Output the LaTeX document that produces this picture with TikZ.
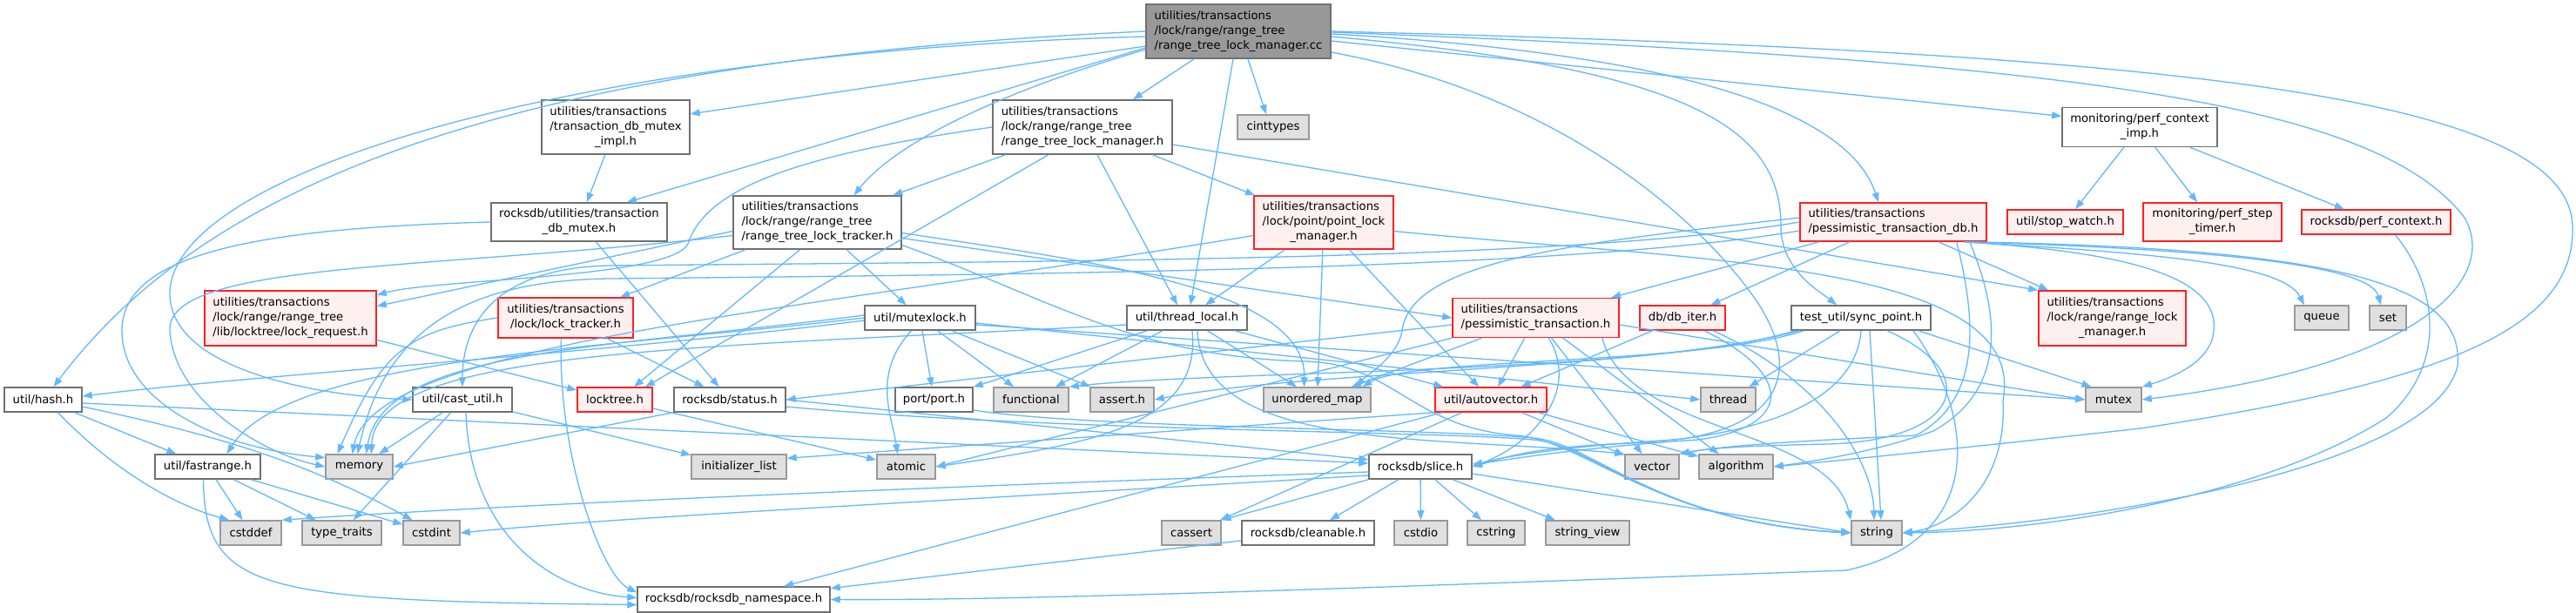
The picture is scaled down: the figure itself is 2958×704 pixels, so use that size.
\documentclass[tikz,border=0pt]{standalone}
\usepackage{fontspec}
\usetikzlibrary{arrows.meta}
\newfontfamily\depfont{DejaVu Sans}
\definecolor{edgeblue}{HTML}{63B8FF}
\definecolor{boxborder}{HTML}{707070}
\definecolor{sysborder}{HTML}{999999}
\definecolor{sysfill}{HTML}{E0E0E0}
\definecolor{truncborder}{HTML}{FF2020}
\definecolor{truncfill}{HTML}{FFF0F0}
\definecolor{rootfill}{HTML}{999999}

\begin{document}
\begin{tikzpicture}[x=1pt, y=-1pt,
    hdr/.style={draw=boxborder, fill=white, line width=1.5pt, inner sep=0pt,
      align=left, font=\depfont\fontsize{13.2}{17}\selectfont},
    sys/.style={hdr, draw=sysborder, fill=sysfill},
    trunc/.style={hdr, draw=truncborder, fill=truncfill},
    root/.style={hdr, fill=rootfill},
    sz/.style 2 args={minimum width=#1pt, minimum height=#2pt},
    dep/.style={draw=edgeblue, line width=1.3pt, -{Triangle[length=11pt,width=8pt]}}]

        % Page
        \fill[white] (0,0) rectangle (2958,704);
        \useasboundingbox (0,0) rectangle (2958,704);

        % The file itself
        \node[root, sz={212}{62}] (main) at (1422,36) {utilities/transactions\\/lock/range/range\_tree\\/range\_tree\_lock\_manager.cc};

        % First row of headers
        \node[hdr, sz={170}{62}] (tdmi) at (707,146) {utilities/transactions\\/transaction\_db\_mutex\\\hfil\_impl.h};
        \node[hdr, sz={206}{62}] (rtlm) at (1243,146) {utilities/transactions\\/lock/range/range\_tree\\/range\_tree\_lock\_manager.h};
        \node[sys, sz={82}{28}] (cinttypes) at (1462,146) {cinttypes};
        \node[hdr, sz={178}{45}] (perfimp) at (2457,146) {monitoring/perf\_context\\\hfil\_imp.h};

        % Second row
        \node[hdr, sz={202}{44}] (tdm) at (665,255) {rocksdb/utilities/transaction\\\hfil\_db\_mutex.h};
        \node[hdr, sz={193}{61}] (rtlt) at (938.5,255.5) {utilities/transactions\\/lock/range/range\_tree\\/range\_tree\_lock\_tracker.h};
        \node[trunc, sz={160}{61}] (plm) at (1520,255.5) {utilities/transactions\\/lock/point/point\_lock\\\hfil\_manager.h};
        \node[trunc, sz={214}{44}] (ptdb) at (2174,255) {utilities/transactions\\/pessimistic\_transaction\_db.h};
        \node[trunc, sz={133}{28}] (stopwatch) at (2371.5,255) {util/stop\_watch.h};
        \node[trunc, sz={159}{44}] (steptimer) at (2540.5,255) {monitoring/perf\_step\\\hfil\_timer.h};
        \node[trunc, sz={171}{28}] (perfctx) at (2728.5,255) {rocksdb/perf\_context.h};

        % Third row
        \node[trunc, sz={197}{63}] (lockreq) at (333.5,365.5) {utilities/transactions\\/lock/range/range\_tree\\/lib/locktree/lock\_request.h};
        \node[trunc, sz={155}{46}] (locktracker) at (649.5,365) {utilities/transactions\\\hfil/lock/lock\_tracker.h};
        \node[hdr, sz={127}{28}] (mutexlock) at (1056.5,365) {util/mutexlock.h};
        \node[hdr, sz={138}{28}] (threadlocal) at (1363,365) {util/thread\_local.h};
        \node[trunc, sz={191}{45}] (pt) at (1763.5,365) {utilities/transactions\\/pessimistic\_transaction.h};
        \node[trunc, sz={98}{28}] (dbiter) at (1932,365) {db/db\_iter.h};
        \node[hdr, sz={160}{28}] (syncpoint) at (2137,365) {test\_util/sync\_point.h};
        \node[trunc, sz={169}{63}] (rlm) at (2425.5,365.5) {utilities/transactions\\/lock/range/range\_lock\\\hfil\_manager.h};
        \node[sys, sz={62}{28}] (queue) at (2666,365) {queue};
        \node[sys, sz={42}{28}] (set) at (2742,365) {set};

        % Fourth row
        \node[hdr, sz={89}{28}] (hash) at (49.5,459) {util/hash.h};
        \node[hdr, sz={114}{28}] (castutil) at (531,459) {util/cast\_util.h};
        \node[trunc, sz={86}{28}] (locktree) at (706,459) {locktree.h};
        \node[hdr, sz={128}{28}] (status) at (838,459) {rocksdb/status.h};
        \node[hdr, sz={89}{28}] (port) at (1072.5,459) {port/port.h};
        \node[sys, sz={86}{28}] (functional) at (1184,459) {functional};
        \node[sys, sz={73}{28}] (assert) at (1288.5,459) {assert.h};
        \node[sys, sz={123}{28}] (umap) at (1512.5,459) {unordered\_map};
        \node[trunc, sz={128}{28}] (autovector) at (1712,459) {util/autovector.h};
        \node[sys, sz={63}{28}] (thread) at (1984.5,459) {thread};
        \node[sys, sz={64}{28}] (mutex) at (2427,459) {mutex};

        % Fifth row
        \node[hdr, sz={121}{28}] (fastrange) at (238.5,536) {util/fastrange.h};
        \node[sys, sz={77}{28}] (memory) at (412.5,536) {memory};
        \node[sys, sz={109}{28}] (initlist) at (848.5,536) {initializer\_list};
        \node[sys, sz={67}{28}] (atomic) at (1040.5,536) {atomic};
        \node[hdr, sz={118}{28}] (slice) at (1631,536) {rocksdb/slice.h};
        \node[sys, sz={62}{28}] (vector) at (1897,536) {vector};
        \node[sys, sz={85}{28}] (algorithm) at (1993.5,536) {algorithm};

        % Sixth row
        \node[sys, sz={70}{28}] (cstddef) at (288,612) {cstddef};
        \node[sys, sz={91}{28}] (typetraits) at (392.5,612) {type\_traits};
        \node[sys, sz={65}{28}] (cstdint) at (495.5,612) {cstdint};
        \node[sys, sz={68}{28}] (cassert) at (1368,612) {cassert};
        \node[hdr, sz={152}{28}] (cleanable) at (1502,612) {rocksdb/cleanable.h};
        \node[sys, sz={61}{28}] (cstdio) at (1631.5,612) {cstdio};
        \node[sys, sz={66}{28}] (cstring) at (1718,612) {cstring};
        \node[sys, sz={96}{28}] (stringview) at (1823,612) {string\_view};
        \node[sys, sz={58}{28}] (string) at (2155,612) {string};

        % Last row
        \node[hdr, sz={221}{29}] (nsp) at (842.5,688.5) {rocksdb/rocksdb\_namespace.h};

        % Includes of the file itself
        \draw[dep] ([yshift=-17pt]main.west) -- (tdmi.10);
        \draw[dep] ([yshift=-19pt]main.west) -- ([xshift=55pt]tdm.north);
        \draw[dep] ([yshift=-21pt]main.west) .. controls (1200,90) and (1040,150) .. ([xshift=42pt]rtlt.north);
        \draw[dep] ([xshift=-51pt]main.south) -- ([xshift=58pt]rtlm.north);
        \draw[dep] ([xshift=11pt]main.south) -- ([xshift=-8pt]cinttypes.north);
        \draw[dep] ([xshift=-6pt]main.south) -- ([xshift=4pt]threadlocal.north);
        \draw[dep] ([yshift=-11pt]main.east) -- (perfimp.172);
        \draw[dep] (main.west) .. controls (560,70) and (230,220) .. ([xshift=12pt]hash.north);
        \draw[dep] ([yshift=-6pt]main.west) .. controls (650,60) and (190,200) .. (195,340) .. controls (200,430) and (380,455) .. (castutil.west);
        \draw[dep] ([yshift=-3pt]main.east) .. controls (1900,60) and (2120,120) .. ([xshift=-17pt]ptdb.north);
        \draw[dep] ([yshift=-6pt]main.east) .. controls (1950,80) and (2045,150) .. (2045,260) .. controls (2045,310) and (2090,335) .. ([xshift=-28pt]syncpoint.north);
        \draw[dep] ([yshift=-24pt]main.east) .. controls (1800,110) and (1960,260) .. (2020,350) .. controls (2070,430) and (2040,490) .. (1925,505) .. controls (1800,512) and (1720,525) .. (slice.east);
        \draw[dep] (main.east) .. controls (2500,60) and (2950,110) .. (2954,260) .. controls (2958,380) and (2800,440) .. (2458,492) .. controls (2250,515) and (2100,530) .. (algorithm.east);
        \draw[dep] ([yshift=-1pt]main.east) .. controls (2400,70) and (2730,120) .. (2830,250) .. controls (2870,320) and (2780,420) .. (mutex.east);

        % range_tree_lock_manager.h
        \draw[dep] (rtlm) -- (rtlt);
        \draw[dep] (rtlm) -- (plm);
        \draw[dep] ([xshift=17pt]rtlm.south) -- ([xshift=-11pt]threadlocal.north);
        \draw[dep] ([xshift=-39pt]rtlm.south) -- ([xshift=35pt]locktree.north);
        \draw[dep] (rtlm.west) .. controls (900,180) and (810,220) .. (790,280) .. controls (770,320) and (500,320) .. (lockreq.15);
        \draw[dep] ([yshift=-20pt]rtlm.east) -- (rlm.north west);

        % transaction_db_mutex headers
        \draw[dep] (tdmi) -- (tdm);
        \draw[dep] (tdm.west) .. controls (300,262) and (140,290) .. (140,380) .. controls (140,460) and (250,515) .. (memory.165);
        \draw[dep] (tdm) -- (status);

        % range_tree_lock_tracker.h
        \draw[dep] ([yshift=-15pt]rtlt.west) .. controls (500,310) and (190,300) .. (195,380) .. controls (200,460) and (300,520) .. (memory.west);
        \draw[dep] ([yshift=-26pt]rtlt.east) .. controls (1200,340) and (1300,410) .. (1500,415) .. controls (1600,418) and (1620,490) .. (1740,500) .. controls (1820,505) and (1900,600) .. (string.west);
        \draw[dep] ([yshift=-12pt]rtlt.east) .. controls (1250,300) and (1500,330) .. ([xshift=-15pt]umap.north);
        \draw[dep] (rtlt) -- (mutexlock);
        \draw[dep] (rtlt) -- (locktracker);
        \draw[dep] ([yshift=-10pt]rtlt.west) -- (lockreq.8);
        \draw[dep] ([xshift=-20pt]rtlt.south) -- ([xshift=22pt]locktree.north);
        \draw[dep] ([yshift=-18pt]rtlt.east) -- (pt.west);

        % point_lock_manager.h
        \draw[dep] ([yshift=-15pt]plm.west) .. controls (900,360) and (430,395) .. ([xshift=-8pt]memory.north);
        \draw[dep] (plm) -- (threadlocal);
        \draw[dep] (plm) -- (umap);
        \draw[dep] (plm) -- (autovector);
        \draw[dep] ([yshift=-10pt]plm.east) .. controls (1950,300) and (2330,300) .. (2300,460) .. controls (2305,560) and (2240,605) .. (string.east);

        % pessimistic_transaction_db.h
        \draw[dep] (ptdb) -- (rlm);
        \draw[dep] (ptdb) -- (pt);
        \draw[dep] (ptdb) -- (dbiter);
        \draw[dep] ([xshift=-27pt]ptdb.south east) .. controls (2450,290) and (2620,300) .. ([xshift=-20pt]queue.north);
        \draw[dep] ([xshift=-27pt]ptdb.south east) .. controls (2500,285) and (2720,300) .. ([xshift=-8pt]set.north);
        \draw[dep] ([xshift=-27pt]ptdb.south east) .. controls (2450,290) and (2560,320) .. (2540,390) .. controls (2530,420) and (2490,435) .. (mutex.north east);
        \draw[dep] ([xshift=-27pt]ptdb.south east) .. controls (2700,285) and (2830,330) .. (2822,420) .. controls (2800,520) and (2500,590) .. (string.east);
        \draw[dep] ([xshift=-20pt]ptdb.south east) .. controls (2300,370) and (2300,450) .. (2220,495) .. controls (2150,520) and (2080,530) .. (algorithm.east);
        \draw[dep] ([xshift=-35pt]ptdb.south east) .. controls (2270,370) and (2275,460) .. (2200,500) .. controls (2100,505) and (1990,510) .. (vector.north east);
        \draw[dep] (ptdb.west) .. controls (1800,300) and (1200,300) .. (700,305) .. controls (560,308) and (531,380) .. (castutil.north);
        \draw[dep] ([yshift=-10pt]ptdb.west) .. controls (1800,310) and (1200,315) .. (700,320) .. controls (520,322) and (440,390) .. ([xshift=-2pt]memory.north);
        \draw[dep] ([yshift=5pt]ptdb.west) .. controls (1800,280) and (1620,300) .. (1610,380) .. controls (1605,410) and (1570,430) .. ([xshift=45pt]umap.north);

        % perf_context_imp.h
        \draw[dep] (perfimp) -- (stopwatch);
        \draw[dep] (perfimp) -- (steptimer);
        \draw[dep] (perfimp) -- (perfctx);
        \draw[dep] ([xshift=22pt]perfctx.south) .. controls (2800,330) and (2810,420) .. (2740,480) .. controls (2600,570) and (2350,610) .. (string.east);

        % lock headers
        \draw[dep] (locktracker.west) .. controls (470,380) and (440,400) .. ([xshift=-25pt]memory.north);
        \draw[dep] (locktracker) -- (status);
        \draw[dep] ([xshift=-5pt]locktracker.south) .. controls (640,520) and (690,660) .. ([yshift=8pt]nsp.west);
        \draw[dep] (lockreq) -- (locktree);
        \draw[dep] (locktree) -- (atomic);

        % util/mutexlock.h
        \draw[dep] (mutexlock) -- (assert);
        \draw[dep] ([xshift=-10pt]mutexlock.south) .. controls (1000,430) and (1025,480) .. ([xshift=-10pt]atomic.north);
        \draw[dep] (mutexlock) -- (functional);
        \draw[dep] ([yshift=3pt]mutexlock.west) .. controls (700,400) and (440,400) .. ([xshift=8pt]memory.north);
        \draw[dep] ([yshift=-8pt]mutexlock.east) -- (mutex.west);
        \draw[dep] ([yshift=-6pt]mutexlock.east) -- (thread.west);
        \draw[dep] (mutexlock) -- (port);
        \draw[dep] (mutexlock.west) .. controls (700,400) and (330,410) .. ([xshift=22pt]fastrange.north);
        \draw[dep] ([yshift=-3pt]mutexlock.west) .. controls (700,405) and (300,430) .. ([yshift=4pt]hash.east);

        % util/thread_local.h
        \draw[dep] ([yshift=-8pt]threadlocal.west) .. controls (800,400) and (430,400) .. ([xshift=14pt]memory.north);
        \draw[dep] (threadlocal) -- (port);
        \draw[dep] (threadlocal) -- (functional);
        \draw[dep] ([xshift=6pt]threadlocal.south) .. controls (1380,490) and (1250,510) .. (atomic.east);
        \draw[dep] (threadlocal) -- (umap);
        \draw[dep] ([xshift=12pt]threadlocal.south) .. controls (1380,520) and (1650,500) .. (vector.north west);
        \draw[dep] (threadlocal) -- (autovector);

        % pessimistic_transaction.h
        \draw[dep] ([yshift=-8pt]pt.west) -- (status.east);
        \draw[dep] (pt.south west) -- (atomic.east);
        \draw[dep] (pt) -- (umap);
        \draw[dep] (pt) -- (autovector);
        \draw[dep] ([xshift=15pt]pt.south) .. controls (1815,450) and (1760,510) .. (slice.east);
        \draw[dep] (pt) -- (vector);
        \draw[dep] (pt) -- (algorithm);
        \draw[dep] ([xshift=-20pt]pt.south east) .. controls (1870,500) and (2100,490) .. (string.north west);
        \draw[dep] ([yshift=-8pt]pt.east) -- (mutex.west);

        % db/db_iter.h
        \draw[dep] (dbiter) -- (autovector);
        \draw[dep] ([xshift=25pt]dbiter.south) .. controls (2060,430) and (2060,490) .. (1950,505) .. controls (1800,515) and (1720,530) .. ([yshift=3pt]slice.east);
        \draw[dep] ([xshift=35pt]dbiter.south) .. controls (2080,430) and (2150,520) .. ([xshift=-3pt]string.north);

        % test_util/sync_point.h
        \draw[dep] ([xshift=10pt]syncpoint.south west) .. controls (1900,425) and (1500,425) .. (assert.east);
        \draw[dep] ([xshift=5pt]syncpoint.south west) .. controls (1900,430) and (1400,425) .. (functional.north east);
        \draw[dep] ([xshift=-15pt]syncpoint.south east) -- (mutex.150);
        \draw[dep] ([xshift=10pt]syncpoint.south) -- ([xshift=5pt]string.north);
        \draw[dep] (syncpoint) -- (thread);
        \draw[dep] ([xshift=15pt]syncpoint.south west) .. controls (1950,420) and (1620,410) .. ([xshift=52pt]umap.north);
        \draw[dep] ([xshift=30pt]syncpoint.south) .. controls (2280,430) and (2250,505) .. (2100,510) .. controls (2000,512) and (1960,515) .. (vector.north east);
        \draw[dep] (syncpoint.south) .. controls (2130,470) and (2000,505) .. (1850,510) .. controls (1750,515) and (1720,528) .. (slice.east);
        \draw[dep] ([xshift=60pt]syncpoint.south) .. controls (2270,480) and (2280,620) .. (2120,655) .. controls (1700,670) and (1200,690) .. (nsp.east);

        % util/autovector.h
        \draw[dep] (autovector) -- (vector);
        \draw[dep] (autovector) -- (algorithm);
        \draw[dep] (autovector.south west) -- (initlist.10);
        \draw[dep] (autovector) -- (nsp);
        \draw[dep] (autovector) -- (cassert);

        % rocksdb/status.h and port/port.h
        \draw[dep] (status.south west) -- (memory.east);
        \draw[dep] (status.east) -- ([yshift=8pt]slice.west);
        \draw[dep] ([yshift=-8pt]status.east) .. controls (1200,495) and (1650,495) .. (1760,505) .. controls (1830,510) and (1900,600) .. (string.west);
        \draw[dep] ([yshift=-12pt]port.east) .. controls (1250,492) and (1650,492) .. (1760,503) .. controls (1830,508) and (1900,600) .. (string.west);

        % rocksdb/slice.h
        \draw[dep] (slice.south west) -- (cassert.north east);
        \draw[dep] (slice) -- (cleanable);
        \draw[dep] (slice) -- (cstdio);
        \draw[dep] (slice) -- (cstring);
        \draw[dep] (slice) -- (stringview);
        \draw[dep] ([yshift=-8pt]slice.east) -- (string.west);
        \draw[dep] ([yshift=-6pt]slice.west) .. controls (900,565) and (500,585) .. (cstddef.north east);
        \draw[dep] ([yshift=-10pt]slice.west) .. controls (1000,580) and (700,595) .. (cstdint.east);
        \draw[dep] (cleanable) -- (nsp);

        % util/hash.h and util/fastrange.h
        \draw[dep] ([yshift=-4pt]hash.east) -- ([yshift=4pt]slice.west);
        \draw[dep] (hash) -- (fastrange);
        \draw[dep] ([xshift=17pt]hash.south) .. controls (130,540) and (200,580) .. ([xshift=-25pt]cstddef.north);
        \draw[dep] ([yshift=-8pt]hash.east) .. controls (250,500) and (350,530) .. ([xshift=-22pt]cstdint.north);
        \draw[dep] ([xshift=-5pt]fastrange.south) .. controls (235,680) and (300,690) .. ([yshift=-6pt]nsp.west);
        \draw[dep] (fastrange) -- (cstddef);
        \draw[dep] (fastrange) -- (typetraits);
        \draw[dep] (fastrange) -- (cstdint);

        % util/cast_util.h
        \draw[dep] (castutil) -- (memory);
        \draw[dep] (castutil) -- (typetraits);
        \draw[dep] ([xshift=4pt]castutil.south) .. controls (540,620) and (640,680) .. ([yshift=2pt]nsp.west);
        \draw[dep] (castutil) -- (initlist);
\end{tikzpicture}
\end{document}
